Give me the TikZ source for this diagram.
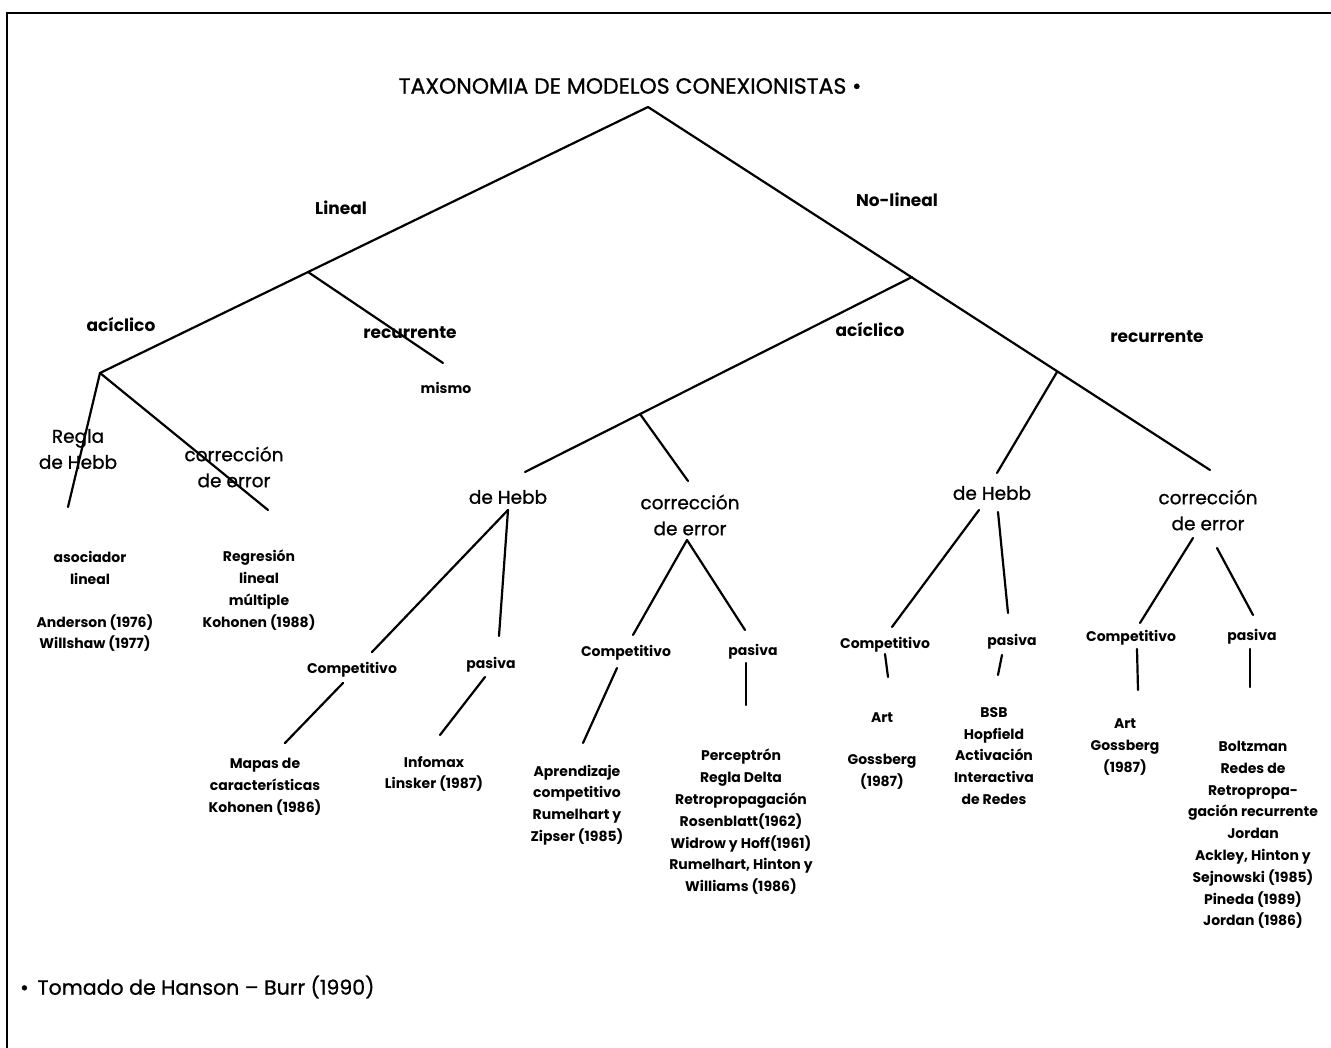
\documentclass[tikz,border=0pt]{standalone}
\usepackage{fontspec}
\setmainfont{Poppins}
\newfontfamily\medfont[FakeBold=0.9]{Poppins}
\begin{document}
\begin{tikzpicture}[x=1pt,y=-1pt,
  br/.style={line width=2.2pt, line cap=round},
  frm/.style={line width=2.6pt},
  ttl/.style={font=\medfont\fontsize{22}{28}\selectfont, inner sep=0pt},
  lvA/.style={font=\bfseries\fontsize{17}{20}\selectfont, inner sep=0pt},
  lvB/.style={font=\medfont\fontsize{18.5}{26}\selectfont, align=center, inner sep=0pt},
  lf/.style={font=\bfseries\fontsize{14}{21.8}\selectfont, align=center, inner sep=0pt},
  fn/.style={font=\medfont\fontsize{20.5}{24}\selectfont, inner sep=0pt, anchor=west}]
\fill[white] (0,0) rectangle (1331,1048);
\useasboundingbox (0,0) rectangle (1331,1048);
% frame
\draw[frm] (7,1048) -- (7,13) -- (1331,13);
% title and footnote
\node[ttl] (title) at (630,86) {TAXONOMIA DE MODELOS CONEXIONISTAS •};
\node[fn] (foot) at (20,987) {•\, Tomado de Hanson – Burr (1990)};
% junction coordinates
\coordinate (root) at (648,107);
\coordinate (jLA) at (100,373);
\coordinate (jLR) at (308,272);
\coordinate (lrEnd) at (443,363);
\coordinate (jNA) at (912,277);
\coordinate (jNR) at (1057,372);
\coordinate (nrEnd) at (1210,470);
\coordinate (naEnd) at (525,472);
\coordinate (jNAc) at (640,414);
\coordinate (ncEnd) at (688,481);
\coordinate (nhEnd) at (997,473);
\coordinate (lhEnd) at (68,507);
\coordinate (lcEnd) at (268,510);
% level labels
\node[lvA] (lineal) at (341,208) {Lineal};
\node[lvA] (nolineal) at (897,200) {No-lineal};
\node[lvA] (aciL) at (121,325) {acíclico};
\node[lvA] (recL) at (410,333) {recurrente};
\node[lf] (mismo) at (446,388) {mismo};
\node[lvA] (aciN) at (870,330) {acíclico};
\node[lvA] (recN) at (1157,337) {recurrente};
\node[lvB] (reglaL) at (78,449) {Regla\\de Hebb};
\node[lvB] (corrL) at (234,467) {corrección\\de error};
\node[lvB] (hebbA) at (508,497) {de Hebb};
\node[lvB] (corrA) at (690,515) {corrección\\de error};
\node[lvB] (hebbR) at (992,493) {de Hebb};
\node[lvB] (corrR) at (1208,510) {corrección\\de error};
% lineal leaves
\node[lf] (asoc) at (90,568) {asociador\\lineal};
\node[lf] (anders) at (95,633) {Anderson (1976)\\Willshaw (1977)};
\node[lf] (regres) at (259,590) {Regresión\\lineal\\múltiple\\Kohonen (1988)};
% second level (non-linear)
\node[lf] (compA1) at (352,670) {Competitivo};
\node[lf] (pasA1) at (491,665) {pasiva};
\node[lf] (compA2) at (626,653) {Competitivo};
\node[lf] (pasA2) at (753,652) {pasiva};
\node[lf] (compR1) at (885,645) {Competitivo};
\node[lf] (pasR1) at (1012,642) {pasiva};
\node[lf] (compR2) at (1131,638) {Competitivo};
\node[lf] (pasR2) at (1252,637) {pasiva};
% leaves
\node[lf] (mapas) at (265,787) {Mapas de\\características\\Kohonen (1986)};
\node[lf] (infomax) at (434,774) {Infomax\\Linsker (1987)};
\node[lf] (aprend) at (577,805) {Aprendizaje\\competitivo\\Rumelhart y\\Zipser (1985)};
\node[lf] (percep) at (741,822) {Perceptrón\\Regla Delta\\Retropropagación\\Rosenblatt(1962)\\Widrow y Hoff(1961)\\Rumelhart, Hinton y\\Williams (1986)};
\node[lf] (art1) at (882,751) {Art\\[21pt]Gossberg\\(1987)};
\node[lf] (bsb) at (994,756) {BSB\\Hopfield\\Activación\\Interactiva\\de Redes};
\node[lf] (art2) at (1125,747) {Art\\Gossberg\\(1987)};
\node[lf] (boltz) at (1253,835) {Boltzman\\Redes de\\Retropropa-\\gación recurrente\\Jordan\\Ackley, Hinton y\\Sejnowski (1985)\\Pineda (1989)\\Jordan (1986)};
% connector end points
\coordinate (hA) at (508,510);
\coordinate (hAc) at (372,652);
\coordinate (hAp) at (499,636);
\coordinate (cA) at (687,540);
\coordinate (cAc) at (633,635);
\coordinate (cAp) at (745,630);
\coordinate (m1) at (343,683);
\coordinate (m2) at (285,743);
\coordinate (i1) at (485,677);
\coordinate (i2) at (440,735);
\coordinate (a1) at (617,668);
\coordinate (a2) at (583,743);
\coordinate (p1) at (746,663);
\coordinate (p2) at (746,705);
\coordinate (hR1) at (979,510);
\coordinate (hRc) at (892,627);
\coordinate (hR2) at (998,512);
\coordinate (hRp) at (1008,613);
\coordinate (cR1) at (1193,538);
\coordinate (cRc) at (1140,623);
\coordinate (cR2) at (1217,548);
\coordinate (cRp) at (1253,615);
\coordinate (r1a) at (885,654);
\coordinate (r1b) at (888,677);
\coordinate (r2a) at (1002,655);
\coordinate (r2b) at (998,675);
\coordinate (r3a) at (1137,649);
\coordinate (r3b) at (1138,690);
\coordinate (r4a) at (1250,649);
\coordinate (r4b) at (1250,687);
% tree lines
\draw[br] (root) -- (jLA);
\draw[br] (root) -- (nrEnd);
\draw[br] (jLR) -- (lrEnd);
\draw[br] (jNA) -- (naEnd);
\draw[br] (jNAc) -- (ncEnd);
\draw[br] (jNR) -- (nhEnd);
\draw[br] (jLA) -- (lhEnd);
\draw[br] (jLA) -- (lcEnd);
\draw[br] (hA) -- (hAc);
\draw[br] (hA) -- (hAp);
\draw[br] (cA) -- (cAc);
\draw[br] (cA) -- (cAp);
\draw[br] (m1) -- (m2);
\draw[br] (i1) -- (i2);
\draw[br] (a1) -- (a2);
\draw[br] (p1) -- (p2);
\draw[br] (hR1) -- (hRc);
\draw[br] (hR2) -- (hRp);
\draw[br] (cR1) -- (cRc);
\draw[br] (cR2) -- (cRp);
\draw[br] (r1a) -- (r1b);
\draw[br] (r2a) -- (r2b);
\draw[br] (r3a) -- (r3b);
\draw[br] (r4a) -- (r4b);
\end{tikzpicture}
\end{document}
